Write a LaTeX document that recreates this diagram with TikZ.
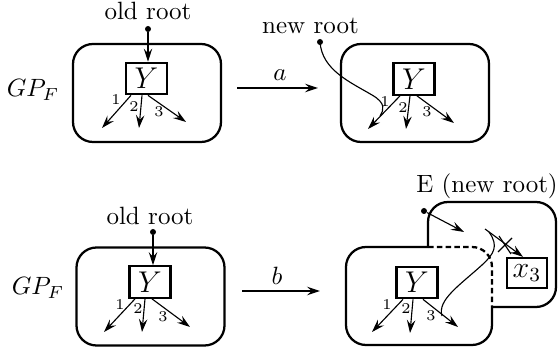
\documentclass[tikz,border=0pt]{standalone}
\usetikzlibrary{arrows.meta,calc}
\begin{document}
\begin{tikzpicture}[x=0.4pt,y=-0.4pt,
  frame/.style={draw,line width=0.9pt,rounded corners=8pt,inner sep=0pt,minimum width=59.2pt,minimum height=39.2pt},
  frameline/.style={line width=0.9pt,rounded corners=8pt},
  vbox/.style={draw,line width=0.9pt,inner sep=0pt,minimum width=16.4pt,minimum height=12.6pt,font=\large},
  arr/.style={-{Stealth[length=5.2pt,width=3.4pt,inset=1.9pt]},line width=0.45pt},
  lab/.style={font=\fontsize{6}{7}\selectfont,inner sep=0pt},
  thin curve/.style={line width=0.45pt},
  dot/.style={circle,fill,inner sep=0pt,minimum size=2.4pt},
]
\useasboundingbox (0,0) rectangle (560,351);

% ---------- top left ----------
\node[frame] (F1) at (147,93) {};
\node[vbox] (Y1) at (146.5,78.5) {$Y$};
\node (or1) at (148,11) {old root};
\node[dot] (d1) at (148,29) {};
\draw[arr] (d1) -- (d1 |- Y1.north);
\coordinate (e11) at (102,128);
\coordinate (e12) at (139,128);
\coordinate (e13) at (186,122);
\draw[arr] ($(Y1.south)+(-15.5,0)$) -- (e11);
\draw[arr] ($(Y1.south)+(-4.5,0)$) -- (e12);
\draw[arr] ($(Y1.south)+(1.5,0)$) -- (e13);
\node[lab] (l11) at (116,100) {1};
\node[lab] (l12) at (134,107) {2};
\node[lab] (l13) at (159,112) {3};
\node (gp1) at (33,90) {$GP_F$};

% ---------- arrow a ----------
\coordinate (a1) at (237,88);
\coordinate (a2) at (318,88);
\draw[arr] (a1) -- (a2);
\node (la) at (280,75) {$a$};

% ---------- top right ----------
\node[frame] (F2) at (415,93) {};
\node[vbox] (Y2) at (414,79) {$Y$};
\node (nr) at (310.5,26) {new root};
\node[dot] (d2) at (320,42) {};
\coordinate (c2) at (380,116);
\draw[thin curve] (d2.center) .. controls (322,70) and (350,82) .. (372,95) .. controls (386,103) and (384,110) .. (c2);
\coordinate (e21) at (368,129);
\coordinate (e22) at (406,129);
\coordinate (e23) at (454,123);
\draw[arr] ($(Y2.south)+(-14,0)$) -- (e21);
\draw[arr] ($(Y2.south)+(-4,0)$) -- (e22);
\draw[arr] ($(Y2.south)+(3,0)$) -- (e23);
\node[lab] (l21) at (385,102) {1};
\node[lab] (l22) at (403,108) {2};
\node[lab] (l23) at (427,112) {3};

% ---------- bottom left ----------
\node[frame] (F3) at (150.5,296.5) {};
\node[vbox] (Y3) at (150,282) {$Y$};
\node (or3) at (150,216) {old root};
\node[dot] (d3) at (153,232) {};
\draw[arr] (d3) -- (d3 |- Y3.north);
\coordinate (e31) at (104,332);
\coordinate (e32) at (142,332);
\coordinate (e33) at (190,327);
\draw[arr] ($(Y3.south)+(-15,0)$) -- (e31);
\draw[arr] ($(Y3.south)+(-5,0)$) -- (e32);
\draw[arr] ($(Y3.south)+(2,0)$) -- (e33);
\node[lab] (l31) at (120,305) {1};
\node[lab] (l32) at (138,309) {2};
\node[lab] (l33) at (163,317) {3};
\node (gp3) at (38,288) {$GP_F$};

% ---------- arrow b ----------
\coordinate (b1) at (242,291);
\coordinate (b2) at (320,291);
\draw[arr] (b1) -- (b2);
\node (lb) at (277,276) {$b$};

% ---------- bottom right ----------
\coordinate (j1) at (428,247);
\coordinate (j2) at (492,307);
\draw[frameline] (j1) -- (346,247) -- (346,345) -- (492,345) -- (j2);
\draw[frameline,dash pattern=on 2.2pt off 1.3pt] (j1) -- (492,247) -- (j2);
\draw[frameline] (j1) -- (428,202) -- (556,202) -- (556,307) -- (j2);
\node[vbox] (Y4) at (417,282.5) {$Y$};
\node[vbox,minimum width=16pt,minimum height=12pt] (x3) at (527,273) {$x_3$};
\node (er) at (487,186) {E (new root)};
\node[dot] (d4) at (424,211) {};
\coordinate (e4) at (464,232);
\draw[arr] (d4) -- (e4);
\coordinate (s5) at (485,229);
\draw[arr] (s5) -- ($(x3.north)+(-4,0)$);
\coordinate (xc) at (505,245);
\draw[thin curve] ($(xc)+(-6,-9)$) -- ($(xc)+(6,9)$);
\draw[thin curve] ($(xc)+(-7,7)$) -- ($(xc)+(7,-7)$);
\coordinate (c4a) at (489,232);
\coordinate (c4b) at (442,316);
\draw[thin curve] (c4a) .. controls (499,246) and (494,254) .. (482,265) .. controls (460,285) and (437,300) .. (c4b);
\coordinate (e41) at (372,332);
\coordinate (e42) at (410,333);
\coordinate (e43) at (458,327);
\draw[arr] ($(Y4.south)+(-14,0)$) -- (e41);
\draw[arr] ($(Y4.south)+(-4,0)$) -- (e42);
\draw[arr] ($(Y4.south)+(6,0)$) -- (e43);
\node[lab] (l41) at (387,305) {1};
\node[lab] (l42) at (406,309) {2};
\node[lab] (l43) at (431,316) {3};
\end{tikzpicture}
\end{document}
